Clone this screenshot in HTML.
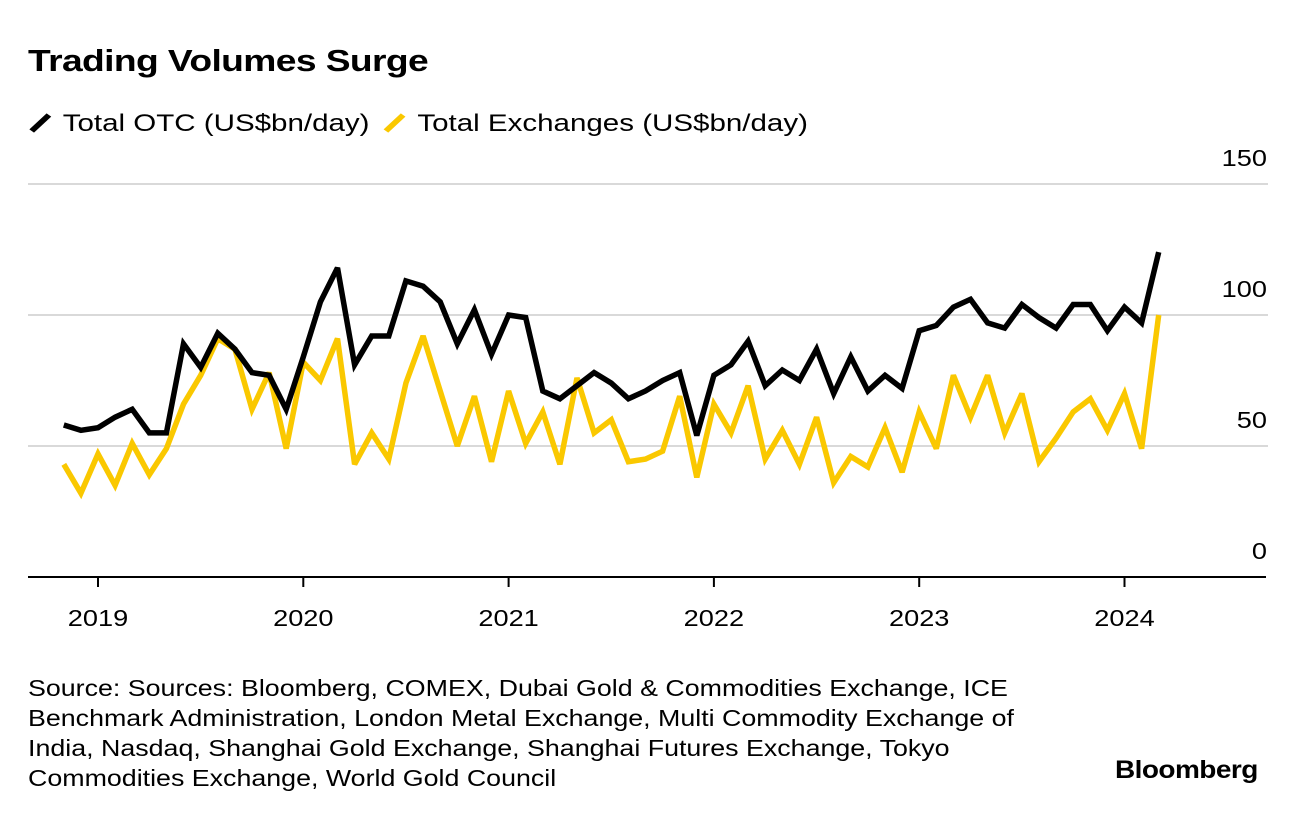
<!DOCTYPE html>
<html><head><meta charset="utf-8"><style>
body{margin:0;background:#fff;font-family:"Liberation Sans",sans-serif;}
#wrap{position:relative;width:1296px;height:816px;overflow:hidden;}
.t{position:absolute;white-space:nowrap;color:#000;transform-origin:0 0;}
</style></head><body><div id="wrap">
<div class="t" style="left:28px;top:43px;font-size:31px;font-weight:bold;letter-spacing:-0.5px;transform:scaleX(1.2)">Trading Volumes Surge</div>
<div class="t" style="left:28px;top:109px;font-size:24px;transform:scaleX(1.23)">
<span><svg width="22" height="26" style="vertical-align:-4px"><line x1="3" y1="22" x2="17" y2="6" stroke="#000" stroke-width="5"/></svg> Total OTC (US$bn/day)</span>
<span style="margin-left:4px"><svg width="22" height="26" style="vertical-align:-4px"><line x1="3" y1="22" x2="17" y2="6" stroke="#fac800" stroke-width="5"/></svg> Total Exchanges (US$bn/day)</span>
</div>
<svg id="chart" width="1296" height="816" style="position:absolute;left:0;top:0"></svg>
<div class="t" style="left:28px;top:673px;font-size:23px;line-height:30px;transform:scaleX(1.165)">Source: Sources: Bloomberg, COMEX, Dubai Gold &amp; Commodities Exchange, ICE<br>Benchmark Administration, London Metal Exchange, Multi Commodity Exchange of<br>India, Nasdaq, Shanghai Gold Exchange, Shanghai Futures Exchange, Tokyo<br>Commodities Exchange, World Gold Council</div>
<div class="t" style="left:1115px;top:756px;font-size:25px;font-weight:bold;letter-spacing:-0.5px;transform:scaleX(1.12)">Bloomberg</div>
</div>
<script>
const startMonth = -2; // Nov 2018 relative to Jan 2019
const otcValues = [58,56,57,61,64,55,55,89,80,93,87,78,77,64,84,105,118,81,92,92,113,111,105,89,102,85,100,99,71,68,73,78,74,68,71,75,78,54,77,81,90,73,79,75,87,70,84,71,77,72,94,96,103,106,97,95,104,99,95,104,104,94,103,97,124];
const exchangeValues = [43,32,47,35,51,39,49,66,77,91,87,64,78,49,82,75,91,43,55,45,74,92,71,50,69,44,71,51,63,43,76,55,60,44,45,48,69,38,66,55,73,45,56,43,61,36,46,42,57,40,63,49,77,61,77,55,70,44,53,63,68,56,70,49,100];
const yTicks = [0,50,100,150];
const yearLabels = ["2019","2020","2021","2022","2023","2024"];
const NS="http://www.w3.org/2000/svg";
const svg=document.getElementById('chart');
function x(m){return 98+m*205.3/12;}
function y(v){return 577-v*2.62;}
function mk(tag,attrs){const e=document.createElementNS(NS,tag);for(const k in attrs)e.setAttribute(k,attrs[k]);svg.appendChild(e);return e;}
function widen(t){const w=t.getComputedTextLength();t.setAttribute('textLength',(w*1.18).toFixed(1));t.setAttribute('lengthAdjust','spacingAndGlyphs');}
yTicks.forEach(v=>{
  if(v>0){const g=mk('line',{x1:28,x2:1268,y1:y(v),y2:y(v),stroke:'#d9d9d9','stroke-width':2});
  
  }
  const t=mk('text',{x:1267,y:y(v)-18,'text-anchor':'end','font-size':23,'font-family':'Liberation Sans, sans-serif'});
  t.textContent=v;
  
  
  widen(t);
});
const ax=mk('line',{x1:28,x2:1266,y1:577,y2:577,stroke:'#000','stroke-width':2});


yearLabels.forEach((l,i)=>{
  const xx=x(i*12);
  const tk=mk('line',{x1:xx,x2:xx,y1:577,y2:587,stroke:'#000','stroke-width':2});
  
  
  const t=mk('text',{x:xx,y:626,'text-anchor':'middle','font-size':23,'font-family':'Liberation Sans, sans-serif'});
  t.textContent=l;
  
  
  widen(t);
});
function line(vals,color,name){
  const d=vals.map((v,i)=>(i?'L':'M')+x(startMonth+i).toFixed(1)+' '+y(v).toFixed(1)).join(' ');
  const p=mk('path',{d:d,fill:'none',stroke:color,'stroke-width':5.5,'stroke-linejoin':'miter','stroke-miterlimit':3});
  
  
}
line(exchangeValues,'#fac800','exchanges-line');
line(otcValues,'#000','otc-line');
</script>
</body></html>
